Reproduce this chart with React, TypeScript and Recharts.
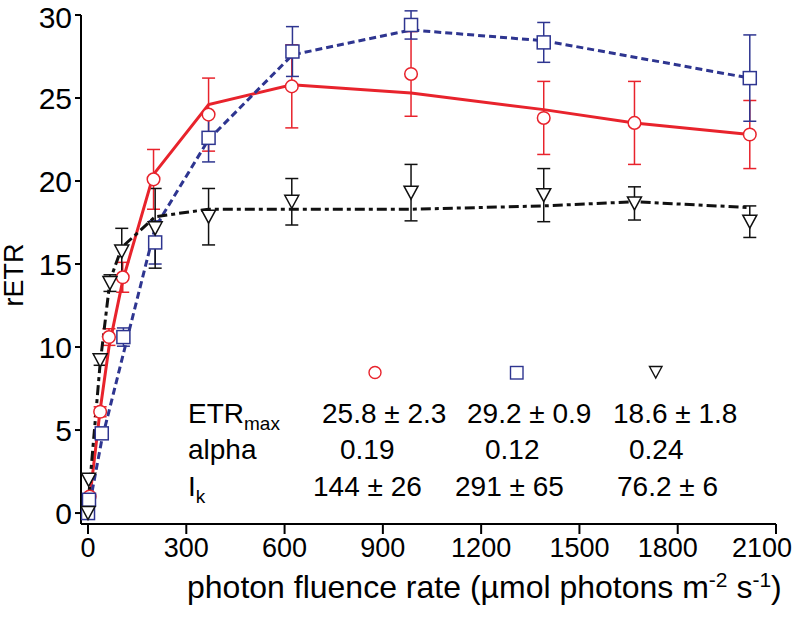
import { ScatterChart, Scatter, XAxis, YAxis, ErrorBar } from "recharts";

// ---------------------------------------------------------------------------
// Data
// ---------------------------------------------------------------------------

const xTicks = [0, 300, 600, 900, 1200, 1500, 1800, 2100];
const yTicks = [0, 5, 10, 15, 20, 25, 30];

// red circles: measured rETR ± SD
const redLight = [0, 5, 37, 64, 106, 200, 368, 622, 986, 1391, 1668, 2020];
const redEtr = [0.1, 1.0, 6.1, 10.6, 14.2, 20.1, 24.0, 25.7, 26.45, 23.8, 23.5, 22.8];
const redSd = [0, 0, 0.3, 0.5, 0.9, 1.8, 2.2, 2.5, 2.55, 2.2, 2.5, 2.05];
// red fit curve
const redFitLight = [0, 37, 64, 106, 200, 368, 622, 986, 1391, 1668, 2020];
const redFitEtr = [0, 6.2, 10.0, 14.0, 20.4, 24.6, 25.8, 25.3, 24.3, 23.5, 22.8];

// blue squares
const blueLight = [0, 3, 42, 108, 205, 368, 624, 986, 1391, 2020];
const blueEtr = [0, 0.8, 4.8, 10.6, 16.3, 22.6, 27.8, 29.4, 28.35, 26.2];
const blueSd = [0, 0, 0.3, 0.55, 1.3, 1.45, 1.5, 0.85, 1.2, 2.6];
const blueFitLight = [0, 42, 108, 205, 368, 624, 986, 1391, 2020];
const blueFitEtr = [0, 4.4, 9.6, 17.2, 22.5, 27.6, 29.1, 28.45, 26.2];

// black triangles
const blackLight = [0, 2, 37, 67, 103, 205, 368, 622, 986, 1391, 1668, 2020];
const blackEtr = [0, 2.0, 9.2, 13.85, 15.75, 17.15, 17.85, 18.75, 19.3, 19.15, 18.65, 17.55];
const blackSd = [0, 0, 0.3, 0.5, 1.4, 2.4, 1.7, 1.4, 1.7, 1.6, 1.0, 0.95];
const blackFitLight = [0, 37, 67, 103, 205, 368, 622, 986, 1391, 1668, 2020];
const blackFitEtr = [0.5, 9.0, 14.0, 16.0, 17.85, 18.3, 18.3, 18.3, 18.5, 18.75, 18.4];

// fit parameter table
const tableRows = ["ETR", "alpha", "I"];
const tableSubs = ["max", "", "k"];
const redStats = ["25.8 ± 2.3", "0.19", "144 ± 26"];
const blueStats = ["29.2 ± 0.9", "0.12", "291 ± 65"];
const blackStats = ["18.6 ± 1.8", "0.24", "76.2 ± 6"];

// ---------------------------------------------------------------------------
// Helpers
// ---------------------------------------------------------------------------

const RED = "#e8232c";
const BLUE = "#2e3590";
const BLACK = "#111111";
const FONT = "'Liberation Sans', Arial, Helvetica, sans-serif";

const toPoints = (xs: number[], ys: number[], sd?: number[]) =>
  xs.map((x, i) => ({ x, y: ys[i], err: sd ? sd[i] : 0 }));

type ShapeProps = { cx?: number; cy?: number };

function CircleMark({ cx = 0, cy = 0 }: ShapeProps) {
  return <circle cx={cx} cy={cy} r={6.3} fill="#fff" stroke={RED} strokeWidth={1.5} />;
}

function SquareMark({ cx = 0, cy = 0 }: ShapeProps) {
  return (
    <rect x={cx - 6.5} y={cy - 6.5} width={13} height={13} fill="#fff" stroke={BLUE} strokeWidth={1.5} />
  );
}

function TriangleMark({ cx = 0, cy = 0 }: ShapeProps) {
  return (
    <path
      d={`M${cx - 7},${cy - 6.5} L${cx + 7},${cy - 6.5} L${cx},${cy + 6.5} Z`}
      fill="#fff"
      stroke={BLACK}
      strokeWidth={1.5}
    />
  );
}

const NoMark = () => <g />;

// the last two x labels sit a little left of their ticks in the original
function XTick({ x = 0, y = 0, payload }: { x?: number; y?: number; payload?: { value: number } }) {
  const v = payload?.value ?? 0;
  const nudge = v === 2100 ? -14 : v === 1800 ? -10 : 0;
  return (
    <text x={x + nudge} y={y} dy="0.71em" textAnchor="middle" fill="#000" fontSize={27} fontFamily={FONT}>
      {v}
    </text>
  );
}

// ---------------------------------------------------------------------------
// Component
// ---------------------------------------------------------------------------

export default function App() {
  const rowY = [423, 459, 496];
  const redX = [322, 340, 313];
  const blueX = [467, 485, 455];
  const blackX = [613, 629, 617];

  return (
    <div style={{ position: "absolute", left: 0, top: 0, width: 800, height: 623, background: "#fff" }}>
      <ScatterChart width={800} height={623} margin={{ top: 15, right: 24, bottom: 0, left: 0 }}>
        <XAxis
          type="number"
          dataKey="x"
          domain={[-21.4, 2100]}
          ticks={xTicks}
          allowDataOverflow
          height={99}
          tickSize={10}
          tickMargin={4}
          axisLine={{ stroke: "#000", strokeWidth: 2 }}
          tickLine={{ stroke: "#000", strokeWidth: 2 }}
          tick={<XTick />}
        />
        <YAxis
          type="number"
          dataKey="y"
          domain={[-0.66, 30]}
          ticks={yTicks}
          allowDataOverflow
          width={81}
          tickSize={6}
          tickMargin={3}
          axisLine={{ stroke: "#000", strokeWidth: 2 }}
          tickLine={{ stroke: "#000", strokeWidth: 2 }}
          tick={{ fill: "#000", fontSize: 30, fontFamily: FONT }}
        />

        {/* fitted curves */}
        <Scatter
          data={toPoints(redFitLight, redFitEtr)}
          line={{ stroke: RED, strokeWidth: 3 }}
          lineType="joint"
          shape={NoMark}
          isAnimationActive={false}
        />
        <Scatter
          data={toPoints(blueFitLight, blueFitEtr)}
          line={{ stroke: BLUE, strokeWidth: 3, strokeDasharray: "7 4" }}
          lineType="joint"
          shape={NoMark}
          isAnimationActive={false}
        />
        <Scatter
          data={toPoints(blackFitLight, blackFitEtr)}
          line={{ stroke: BLACK, strokeWidth: 3, strokeDasharray: "10 4 4 4" }}
          lineType="joint"
          shape={NoMark}
          isAnimationActive={false}
        />

        {/* measured points */}
        <Scatter data={toPoints(redLight, redEtr, redSd)} shape={CircleMark} isAnimationActive={false}>
          <ErrorBar dataKey="err" direction="y" width={6.5} stroke={RED} strokeWidth={1.5} />
        </Scatter>
        <Scatter data={toPoints(blueLight, blueEtr, blueSd)} shape={SquareMark} isAnimationActive={false}>
          <ErrorBar dataKey="err" direction="y" width={6.5} stroke={BLUE} strokeWidth={1.5} />
        </Scatter>
        <Scatter data={toPoints(blackLight, blackEtr, blackSd)} shape={TriangleMark} isAnimationActive={false}>
          <ErrorBar dataKey="err" direction="y" width={6.5} stroke={BLACK} strokeWidth={1.5} />
        </Scatter>
      </ScatterChart>

      {/* titles and fit table */}
      <svg
        width={800}
        height={623}
        style={{ position: "absolute", left: 0, top: 0, pointerEvents: "none" }}
        fontFamily={FONT}
      >
        <text x={23} y={275} fontSize={27} textAnchor="middle" transform="rotate(-90 23 275)">
          rETR
        </text>
        <text x={187} y={598} fontSize={32}>
          photon fluence rate (µmol photons m
          <tspan dy={-11} fontSize={21}>-2</tspan>
          <tspan dy={11}> s</tspan>
          <tspan dy={-11} fontSize={21}>-1</tspan>
          <tspan dy={11}>)</tspan>
        </text>

        <circle cx={375} cy={372.5} r={6} fill="none" stroke={RED} strokeWidth={1.4} />
        <rect x={510.5} y={366.5} width={12.5} height={12.5} fill="none" stroke={BLUE} strokeWidth={1.4} />
        <path d="M649.5,366.5 L662,366.5 L655.75,378 Z" fill="none" stroke={BLACK} strokeWidth={1.4} />

        {tableRows.map((label, i) => (
          <g key={label} fontSize={28}>
            <text x={188} y={rowY[i]}>
              {label}
              {tableSubs[i] && (
                <tspan dy={7} fontSize={19}>
                  {tableSubs[i]}
                </tspan>
              )}
            </text>
            <text x={redX[i]} y={rowY[i]}>{redStats[i]}</text>
            <text x={blueX[i]} y={rowY[i]}>{blueStats[i]}</text>
            <text x={blackX[i]} y={rowY[i]}>{blackStats[i]}</text>
          </g>
        ))}
      </svg>
    </div>
  );
}
